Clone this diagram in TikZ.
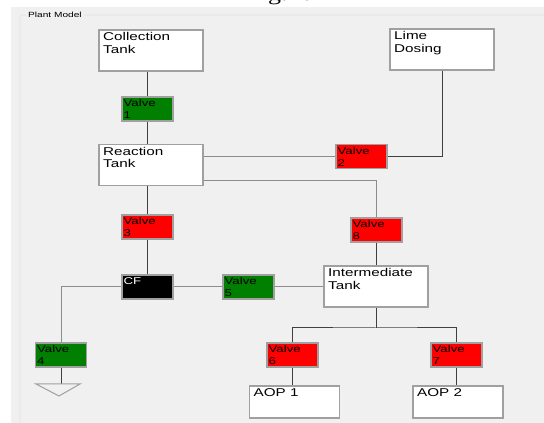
\documentclass[tikz,border=0pt]{standalone}
\usepackage{fontspec}
\setmainfont{Liberation Sans}[FakeStretch=1.35]
\newfontfamily\capfont{Liberation Serif}[FakeStretch=1.3]
\usepackage{xcolor}
\usepackage{tikz}
\usetikzlibrary{positioning, calc}

\definecolor{panel}{HTML}{F0F0F0}
\definecolor{frame}{HTML}{DCE3EA}
\definecolor{boxedge}{HTML}{A0A0A0}
\definecolor{vred}{HTML}{FF0000}
\definecolor{vgreen}{HTML}{007F00}

\begin{document}
\begin{tikzpicture}[x=1pt, y=1pt,
    tank/.style={draw=boxedge, line width=1.1pt, fill=white, minimum width=104, minimum height=41, inner sep=0pt},
    aop/.style={tank, minimum width=90, minimum height=32},
    valve/.style={draw=boxedge, line width=1.1pt, minimum width=51, minimum height=24, inner sep=0pt},
    redvalve/.style={valve, fill=vred},
    greenvalve/.style={valve, fill=vgreen},
    tanktext/.style={anchor=north west, align=left, inner sep=0pt, xshift=4.5, yshift=-3, font=\fontsize{11.3}{12.5}\selectfont},
    valvetext/.style={anchor=north west, align=left, inner sep=0pt, xshift=2, yshift=-3, font=\fontsize{9.8}{12}\selectfont},
    pipe/.style={draw=black!75, line width=1pt},
    pipelt/.style={draw=black!45, line width=1pt}]

        \useasboundingbox (0,0) rectangle (544,423);
        \clip (0,0) rectangle (544,423);
        \fill[white] (0,0) rectangle (544,423);
        \fill[panel] (11,0) rectangle (544,416);

        % caption, cut off at the top
        \node[anchor=base, font=\capfont\fontsize{20}{20}\selectfont] (fig) at (280,422) {Fig.10};

        % group box
        \draw[frame, line width=0.8pt, rounded corners=2] (20,0) |- (560,408);
        \node[anchor=west, fill=panel, inner sep=2pt, font=\fontsize{7.5}{8}\selectfont] (plant) at (26,408) {Plant Model};

        % tanks
        \node[tank, label={[tanktext]north west:{Collection\\Tank}}] (ct) at (151,372.5) {};
        \node[tank, label={[tanktext]north west:{Lime\\Dosing}}] (ld) at (442,373.5) {};
        \node[tank, label={[tanktext]north west:{Reaction\\Tank}}] (rt) at (151,258) {};
        \node[tank, label={[tanktext]north west:{Intermediate\\Tank}}] (it) at (376,136.5) {};
        \node[aop, label={[tanktext]north west:{AOP 1}}] (aop1) at (294.5,21) {};
        \node[aop, label={[tanktext]north west:{AOP 2}}] (aop2) at (458,21) {};

        % valves
        \node[greenvalve, label={[valvetext]north west:{Valve\\1}}] (v1) at (147.5,314) {};
        \node[redvalve, label={[valvetext]north west:{Valve\\2}}] (v2) at (361.5,266.5) {};
        \node[redvalve, label={[valvetext]north west:{Valve\\3}}] (v3) at (147.5,196) {};
        \node[greenvalve, label={[valvetext]north west:{Valve\\4}}] (v4) at (61,68) {};
        \node[greenvalve, label={[valvetext]north west:{Valve\\5}}] (v5) at (248.5,136) {};
        \node[redvalve, label={[valvetext]north west:{Valve\\6}}] (v6) at (292.5,68) {};
        \node[redvalve, label={[valvetext]north west:{Valve\\7}}] (v7) at (456.5,68) {};
        \node[redvalve, label={[valvetext]north west:{Valve\\8}}] (v8) at (376.5,193) {};
        \node[valve, fill=black, label={[valvetext, text=white]north west:{CF}}] (cf) at (147.5,136) {};

        % pipes
        \draw[pipe] (v1.north |- ct.south) -- (v1.north);
        \draw[pipe] (v1.south) -- (v1.south |- rt.north);
        \draw[pipe] (ld.south) |- (v2.east);
        \draw[pipelt] (v2.west) -- (v2.west -| rt.east);
        \draw[pipelt] ([yshift=6]rt.south east) -| (v8.north);
        \draw[pipe] (v8.south) -- (v8.south |- it.north);
        \draw[pipe] (v3.north |- rt.south) -- (v3.north);
        \draw[pipe] (v3.south) -- (cf.north);
        \draw[pipelt] (cf.east) -- (v5.west);
        \draw[pipelt] (v5.east) -- (v5.east -| it.west);
        \draw[pipelt] (cf.west) -| (v4.north);

        % drain
        \coordinate (drain) at (59,39);
        \draw[pipe] (v4.south) -- (v4.south |- drain);
        \draw[boxedge, line width=1pt] ($(drain)+(-23,0)$) -- ($(drain)+(21,0)$) -- ($(drain)+(0,-12)$) -- cycle;

        % to the AOP units
        \coordinate (split) at (it.south |- 0,95);
        \draw[pipe] (it.south) -- (split);
        \draw[pipe] (v6.north) |- (split) -| (v7.north);
        \draw[pipe] (v6.south) -- (v6.south |- aop1.north);
        \draw[pipe] (v7.south) -- (v7.south |- aop2.north);
      \end{tikzpicture}
\end{document}
